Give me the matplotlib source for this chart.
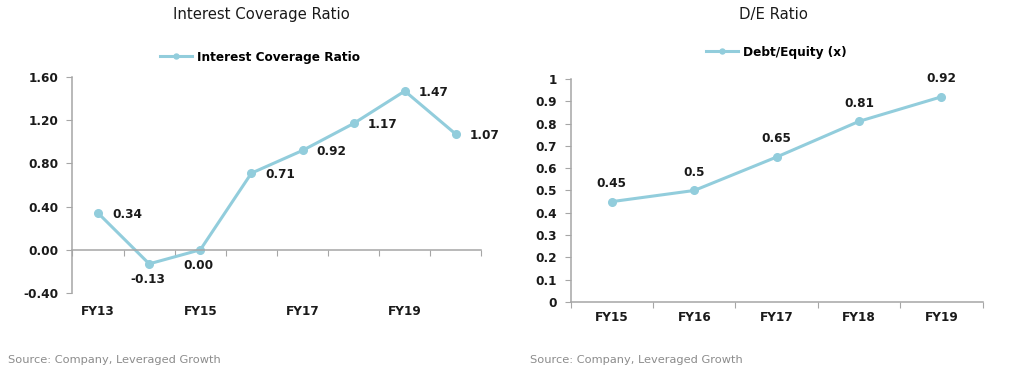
import matplotlib.pyplot as plt
from matplotlib.transforms import blended_transform_factory

# data
icr_years = ['FY13', 'FY14', 'FY15', 'FY16', 'FY17', 'FY18', 'FY19', 'FY20']
icr_values = [0.34, -0.13, 0.00, 0.71, 0.92, 1.17, 1.47, 1.07]
icr_ticks = [-0.40, 0.00, 0.40, 0.80, 1.20, 1.60]

de_years = ['FY15', 'FY16', 'FY17', 'FY18', 'FY19']
de_values = [0.45, 0.50, 0.65, 0.81, 0.92]
de_labels = ['0.45', '0.5', '0.65', '0.81', '0.92']
de_ticks = [0, 0.1, 0.2, 0.3, 0.4, 0.5, 0.6, 0.7, 0.8, 0.9, 1]

line_color = '#92CDDC'
text_color = '#1a1a1a'
axis_color = '#A6A6A6'
bold = dict(fontweight='bold', color=text_color, fontsize=8.7)

fig = plt.figure(figsize=(10.24, 3.89), dpi=100)
ax1 = fig.add_axes([0.0708, 0.2468, 0.3994, 0.5552])
ax2 = fig.add_axes([0.5573, 0.2237, 0.4023, 0.5733])


def style_axes(ax):
    for s in ['top', 'right']:
        ax.spines[s].set_visible(False)
    for s in ['left', 'bottom']:
        ax.spines[s].set_color(axis_color)
        ax.spines[s].set_linewidth(1.1)
    ax.tick_params(axis='y', direction='out', length=4, color=axis_color,
                   labelsize=8.7, labelcolor=text_color, pad=6)
    for t in ax.get_yticklabels():
        t.set_fontweight('bold')


# ---- Interest coverage ratio ----
x1 = list(range(len(icr_years)))
ax1.plot(x1, icr_values, color=line_color, lw=2.2, marker='o', ms=5.5,
         label='Interest Coverage Ratio')
ax1.set_xlim(-0.5, len(icr_years) - 0.5)
ax1.set_ylim(icr_ticks[0], icr_ticks[-1])
ax1.set_yticks(icr_ticks)
ax1.set_yticklabels([f'{v:.2f}' for v in icr_ticks])
style_axes(ax1)
ax1.spines['bottom'].set_position(('data', 0))
ax1.set_xticks([i - 0.5 for i in range(len(icr_years) + 1)])
ax1.set_xticklabels([])
ax1.tick_params(axis='x', direction='out', length=4, color=axis_color)
trans1 = blended_transform_factory(ax1.transData, ax1.transAxes)
for i, name in enumerate(icr_years):
    if i % 2 == 0:
        ax1.text(i, -0.085, name, transform=trans1, ha='center', va='center', **bold)
for i, v in enumerate(icr_values):
    if v <= 0:
        ax1.annotate(f'{v:.2f}', (i, v), xytext=(-1, -11), textcoords='offset points',
                     ha='center', va='center', **bold)
    else:
        ax1.annotate(f'{v:.2f}', (i, v), xytext=(10, -1), textcoords='offset points',
                     ha='left', va='center', **bold)
ax1.legend(loc='center', bbox_to_anchor=(0.254, 0.853), bbox_transform=fig.transFigure,
           frameon=False, handlelength=2.6, handletextpad=0.4, markerscale=0.65,
           prop=dict(weight='bold', size=8.7))
fig.text(0.255, 0.962, 'Interest Coverage Ratio', ha='center', va='center',
         fontsize=10.7, color=text_color)
fig.text(0.008, 0.075, 'Source: Company, Leveraged Growth', ha='left', va='center',
         fontsize=8.2, color='#8c8c8c')

# ---- D/E ratio ----
x2 = list(range(len(de_years)))
ax2.plot(x2, de_values, color=line_color, lw=2.2, marker='o', ms=5.5,
         label='Debt/Equity (x)')
ax2.set_xlim(-0.5, len(de_years) - 0.5)
ax2.set_ylim(0, 1)
ax2.set_yticks(de_ticks)
ax2.set_yticklabels([f'{v:g}' for v in de_ticks])
style_axes(ax2)
ax2.set_xticks([i - 0.5 for i in range(len(de_years) + 1)])
ax2.set_xticklabels([])
ax2.tick_params(axis='x', direction='out', length=4, color=axis_color)
trans2 = blended_transform_factory(ax2.transData, ax2.transAxes)
for i, name in enumerate(de_years):
    ax2.text(i, -0.068, name, transform=trans2, ha='center', va='center', **bold)
for i, (v, lab) in enumerate(zip(de_values, de_labels)):
    ax2.annotate(lab, (i, v), xytext=(0, 13), textcoords='offset points',
                 ha='center', va='center', **bold)
ax2.legend(loc='center', bbox_to_anchor=(0.758, 0.866), bbox_transform=fig.transFigure,
           frameon=False, handlelength=2.6, handletextpad=0.4, markerscale=0.65,
           prop=dict(weight='bold', size=8.7))
fig.text(0.755, 0.962, 'D/E Ratio', ha='center', va='center',
         fontsize=10.7, color=text_color)
fig.text(0.518, 0.075, 'Source: Company, Leveraged Growth', ha='left', va='center',
         fontsize=8.2, color='#8c8c8c')

fig.savefig('out.png', dpi=100, facecolor='white')
